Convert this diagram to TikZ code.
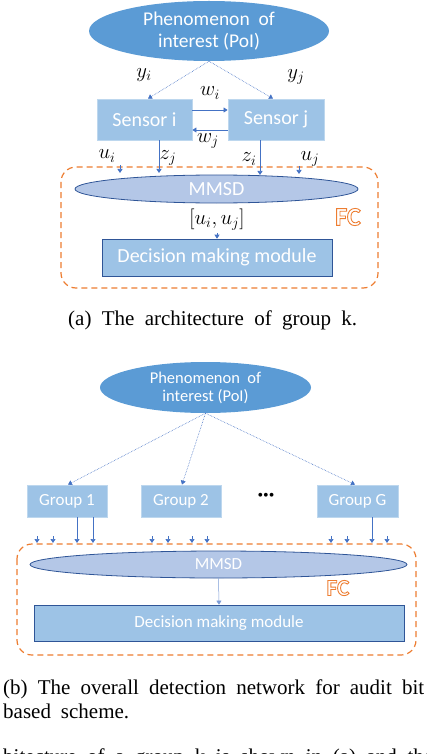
\documentclass[tikz,border=0pt]{standalone}
\usepackage{fontspec}
\setmainfont{Liberation Serif}
\newfontfamily\diag{Carlito}
\usetikzlibrary{arrows.meta,shapes.geometric}
\definecolor{poi}{HTML}{5B9BD5}
\definecolor{boxfill}{HTML}{9DC3E6}
\definecolor{boxedge}{HTML}{BDD7EE}
\definecolor{mmsdfill}{HTML}{B4C7E7}
\definecolor{darkedge}{HTML}{2F5597}
\definecolor{conn}{HTML}{4472C4}
\definecolor{fcorange}{HTML}{ED7D31}
\newcommand{\outlinetext}[1]{\special{pdf:literal direct 1 Tr 0.9 w}#1\special{pdf:literal direct 0 Tr}}
\begin{document}
\begin{tikzpicture}[x=1pt,y=-1pt,
  poinode/.style={ellipse,fill=poi,inner sep=0pt,text=white,align=center},
  lightbox/.style={rectangle,fill=boxfill,draw=boxedge,line width=0.8pt,inner sep=0pt,text=white},
  darkbox/.style={rectangle,fill=boxfill,draw=darkedge,line width=0.6pt,inner sep=0pt,text=white},
  mmsd/.style={ellipse,fill=mmsdfill,draw=darkedge,line width=0.8pt,inner sep=0pt,text=white},
  fcbox/.style={draw=fcorange,line width=1.2pt,dash pattern=on 6pt off 4pt,rounded corners=15pt},
  conarrow/.style={draw=conn,line width=0.7pt,-{Triangle[width=5pt,length=4pt]}},
  dotarrow/.style={draw=conn,line width=0.6pt,densely dotted,-{Triangle[width=5pt,length=4pt]}},
  mlabel/.style={inner sep=0pt,font=\fontsize{20}{22}\selectfont},
  fclabel/.style={inner sep=0pt,text=fcorange,font=\diag\bfseries\fontsize{26}{26}\selectfont},
  capt/.style={inner sep=0pt,font=\fontsize{21}{25}\selectfont}]
\useasboundingbox (0,0) rectangle (426,754);

%%%%%%%%%%%% (a)
\draw[fcbox] (61,167) rectangle (378,288);
\node[poinode,minimum width=240pt,minimum height=60pt,font=\diag\fontsize{19.5}{22}\selectfont] (poia) at (209,31) {Phenomenon\ \ of\\interest (PoI)};
\node[lightbox,minimum width=95pt,minimum height=41pt,font=\diag\fontsize{20}{22}\selectfont] (si) at (144.5,119.5) {Sensor i};
\node[lightbox,minimum width=96pt,minimum height=41pt,font=\diag\fontsize{20}{22}\selectfont] (sj) at (276,119.5) {Sensor j};
\node[mmsd,minimum width=283pt,minimum height=28pt,font=\diag\fontsize{20}{22}\selectfont] (mma) at (216.5,189) {MMSD};
\node[darkbox,minimum width=230pt,minimum height=37pt,font=\diag\fontsize{20}{22}\selectfont] (dma) at (217,257.5) {Decision making module};

\draw[dotarrow] (poia.south) -- ([xshift=3.5pt]si.north);
\draw[dotarrow] (poia.south) -- ([xshift=-3pt]sj.north);
\draw[conarrow] ([yshift=9.5pt]si.east) -- ([yshift=9.5pt]sj.west);
\draw[conarrow] ([yshift=-10.5pt]sj.west) -- ([yshift=-10.5pt]si.east);

\coordinate (zjend) at (159,173);
\coordinate (ziend) at (260,175);
\draw[conarrow] (si.south -| zjend) -- (zjend);
\draw[conarrow] (sj.south -| ziend) -- (ziend);
\coordinate (uistart) at (120,165);
\coordinate (uiend) at (120,173);
\coordinate (ujstart) at (299,166);
\coordinate (ujend) at (299,174);
\draw[conarrow] (uistart) -- (uiend);
\draw[conarrow] (ujstart) -- (ujend);
\coordinate (dmstart) at (217,233);
\draw[conarrow] (dmstart) -- (dma.north);

\node[mlabel] (lyi) at (144,75) {$y_i$};
\node[mlabel] (lyj) at (296,77) {$y_j$};
\node[mlabel] (lwi) at (210,93) {$w_i$};
\node[mlabel] (lwj) at (208,141) {$w_j$};
\node[mlabel] (lui) at (107,156) {$u_i$};
\node[mlabel] (lzj) at (168,158) {$z_j$};
\node[mlabel] (lzi) at (249,159) {$z_i$};
\node[mlabel] (luj) at (310,159) {$u_j$};
\node[mlabel] (luu) at (217,220) {$[u_i,u_j]$};
\node[fclabel] (fca) at (348,217) {\outlinetext{FC}};

\node[capt,anchor=base west] (capa) at (68,325) {\makebox[289pt][s]{(a) The architecture of group k.}};

%%%%%%%%%%%% (b)
\draw[fcbox] (17,544) rectangle (416,655);
\node[poinode,minimum width=211pt,minimum height=51pt,font=\diag\fontsize{16.5}{18}\selectfont] (poib) at (205.5,387.5) {Phenomenon\ \ of\\interest (PoI)};
\node[lightbox,minimum width=80pt,minimum height=32pt,font=\diag\fontsize{17}{20}\selectfont] (g1) at (67,501) {Group 1};
\node[lightbox,minimum width=80pt,minimum height=32pt,font=\diag\fontsize{17}{20}\selectfont] (g2) at (181,501) {Group 2};
\node[lightbox,minimum width=81pt,minimum height=32pt,font=\diag\fontsize{17}{20}\selectfont] (gg) at (357.5,501) {Group G};
\node[inner sep=0pt,font=\fontsize{16}{16}\selectfont] (dots) at (266,497) {\textbullet\textbullet\textbullet};
\node[mmsd,minimum width=377pt,minimum height=27pt,font=\diag\fontsize{17}{20}\selectfont] (mmb) at (218.5,564.5) {MMSD};
\node[darkbox,minimum width=370pt,minimum height=36pt,font=\diag\fontsize{17}{20}\selectfont] (dmb) at (219,623) {Decision making module};
\node[fclabel,font=\diag\bfseries\fontsize{23}{23}\selectfont] (fcb) at (338,588) {\outlinetext{FC}};

\draw[dotarrow] (poib.south) -- ([xshift=1pt]g1.north);
\draw[dotarrow] (poib.south) -- ([xshift=1pt]g2.north);
\draw[dotarrow] (poib.south) -- ([xshift=-2.5pt]gg.north);

\foreach \xx/\nm in {77/a,93/b} {
  \coordinate (g1e\nm) at (\xx,543);
  \draw[conarrow] (g1.south -| g1e\nm) -- (g1e\nm);
}
\coordinate (gge) at (372,543);
\draw[conarrow] (gg.south -| gge) -- (gge);
\foreach \xx in {37,53,152,168,192,207,331,347,387} {
  \coordinate (s\xx) at (\xx,536);
  \coordinate (e\xx) at (\xx,543);
  \draw[conarrow] (s\xx) -- (e\xx);
}
\draw[conarrow,line width=0.5pt,draw=conn!70] (mmb.south) -- (dmb.north);

\node[capt,anchor=base west] (capb1) at (3,694) {\makebox[421pt][s]{(b) The overall detection network for audit bit}};
\node[capt,anchor=base west] (capb2) at (3,718) {\makebox[126pt][s]{based scheme.}};
\node[capt,anchor=base west] (body) at (3,763) {\makebox[430pt][s]{bitecture of a group k is shown in (a) and the}};
\end{tikzpicture}
\end{document}
